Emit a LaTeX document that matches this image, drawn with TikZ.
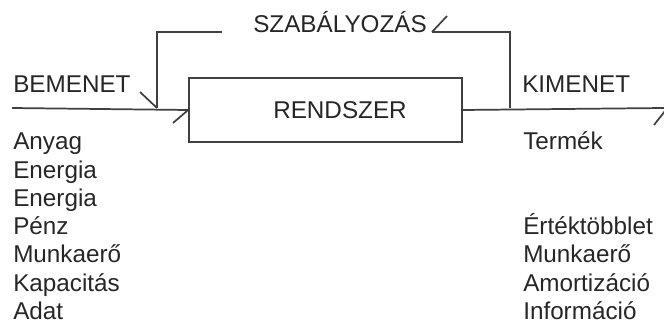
\documentclass[tikz,border=0pt]{standalone}
\usepackage{fontspec}
\setmainfont{Liberation Sans}
\begin{document}
\begin{tikzpicture}[x=0.75pt,y=-0.75pt,
  wire/.style={draw=black!75,line width=1.3pt},
  barb/.style={draw=black!75,line width=1.3pt},
  lbl/.style={text=black!85,font=\fontsize{18.2}{21}\selectfont,inner sep=0pt,anchor=base west},
  sysbox/.style={draw=black!75,line width=1.3pt,minimum width=273*0.75pt,minimum height=64*0.75pt,inner sep=0pt}]
  \useasboundingbox (0,0) rectangle (664,324);

  % the system block
  \node[sysbox] (rendszer) at (325.5,110) {};
  \node[lbl] (rlabel) at (273,119) {RENDSZER};

  % input and output lines
  \coordinate (in) at (12,108);
  \coordinate (join) at (157,108);
  \coordinate (tap) at (510,108);
  \coordinate (out) at (664,108);
  \draw[wire] (in) -- (rendszer.west);
  \draw[wire] (rendszer.east) -- (out);

  % feedback (control) loop
  \node[lbl] (szab) at (253,33) {SZABÁLYOZÁS};
  \coordinate (fbr) at (432,32);
  \coordinate (fbl) at (222,32);
  \draw[wire] (tap) -- (510,32) -- (fbr);
  \draw[wire] (fbl) -- (157,32) -- (join);

  % single-barb arrow marks
  \draw[barb] (140,92) -- (join);
  \draw[barb] (173,123) -- (rendszer.west);
  \draw[barb] (fbr) -- (447,16);
  \draw[barb] (654,125) -- (665,111);

  % headings
  \node[lbl] (be) at (13,93) {BEMENET};
  \node[lbl] (ki) at (522,93) {KIMENET};

  % input items
  \foreach \t [count=\i from 0] in {Anyag,Energia,Energia,Pénz,Munkaerő,Kapacitás,Adat}
    \node[lbl] (in\i) at (13,150+28.2*\i) {\t};

  % output items
  \node[lbl] (out0) at (523,150) {Termék};
  \foreach \t [count=\i from 3] in {Értéktöbblet,Munkaerő,Amortizáció,Információ}
    \node[lbl] (out\i) at (523,150+28.2*\i) {\t};
\end{tikzpicture}
\end{document}
